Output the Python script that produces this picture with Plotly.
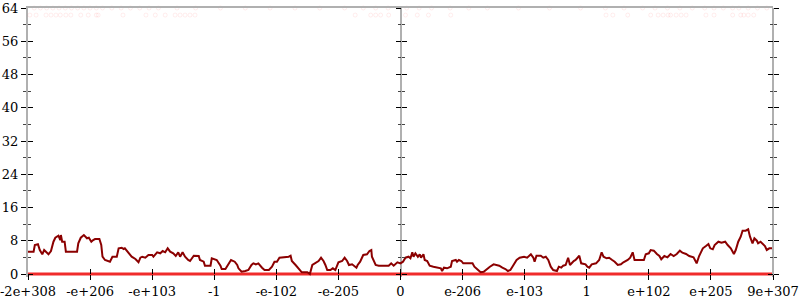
import plotly.graph_objects as go

# ---- data ----
tick_positions = [-6, -5, -4, -3, -2, -1, 0, 1, 2, 3, 4, 5, 6]
tick_labels = ["-2e+308", "-e+206", "-e+103", "-1", "-e-102", "-e-205", "0",
               "e-206", "e-103", "1", "e+102", "e+205", "9e+307"]
y_ticks = [0, 8, 16, 24, 32, 40, 48, 56, 64]

series_x = [
    -6.00, -5.91, -5.89, -5.84, -5.81, -5.77, -5.74, -5.67, -5.63, -5.59, -5.56, -5.51, -5.48, -5.47, -5.45, -5.41,
    -5.39, -5.21, -5.19, -5.15, -5.10, -5.05, -5.02, -4.98, -4.95, -4.92, -4.85, -4.82, -4.80, -4.76, -4.68, -4.64,
    -4.57, -4.54, -4.49, -4.46, -4.44, -4.38, -4.33, -4.27, -4.22, -4.19, -4.16, -4.11,
    -4.06, -4.00, -3.98, -3.92, -3.87, -3.83, -3.79, -3.75, -3.71, -3.66, -3.62, -3.58, -3.55, -3.51, -3.47, -3.42,
    -3.39, -3.33, -3.25, -3.23, -3.17, -3.15, -3.06, -3.04, -2.98, -2.96, -2.90, -2.88, -2.82, -2.78, -2.73, -2.67,
    -2.63, -2.61, -2.56, -2.50, -2.45, -2.40, -2.37, -2.33, -2.29, -2.23, -2.19, -2.12, -2.07,
    -2.03, -1.99, -1.95, -1.80, -1.77, -1.75, -1.69, -1.64, -1.59, -1.50, -1.46, -1.42, -1.37, -1.32, -1.28, -1.24,
    -1.21, -1.18, -1.13, -1.09, -1.05, -1.00, -0.94, -0.90, -0.86, -0.83, -0.78, -0.75, -0.71, -0.69, -0.65, -0.60,
    -0.54, -0.50, -0.47, -0.46, -0.40, -0.35, -0.19, -0.15, -0.11, -0.05, 0.00,
    0.04, 0.08, 0.13, 0.16, 0.19, 0.21, 0.24, 0.28, 0.31, 0.33, 0.37, 0.39, 0.43, 0.47, 0.53, 0.59,
    0.65, 0.67, 0.70, 0.75, 0.81, 0.83, 0.89, 0.91, 0.94, 0.98, 1.01, 1.16, 1.19, 1.25, 1.29, 1.34,
    1.39, 1.44, 1.50, 1.56, 1.59, 1.64, 1.69, 1.73, 1.77, 1.82, 1.87, 1.92,
    1.99, 2.04, 2.10, 2.14, 2.16, 2.19, 2.26, 2.30, 2.34, 2.38, 2.42, 2.46, 2.52, 2.55, 2.59, 2.62,
    2.66, 2.70, 2.73, 2.79, 2.82, 2.88, 2.91, 2.98, 3.01, 3.04, 3.08, 3.15, 3.20, 3.24, 3.27, 3.32,
    3.36, 3.41, 3.45, 3.50, 3.55, 3.59, 3.66, 3.70, 3.74, 3.77, 3.92, 3.95, 4.00, 4.03,
    4.08, 4.13, 4.17, 4.20, 4.25, 4.30, 4.35, 4.40, 4.45, 4.50, 4.54, 4.60, 4.65, 4.72, 4.77, 4.81,
    4.87, 4.92, 4.96, 4.99, 5.03, 5.06, 5.12, 5.17, 5.23, 5.27, 5.32, 5.37, 5.40, 5.44, 5.48, 5.51,
    5.56, 5.60, 5.63, 5.67, 5.70, 5.74, 5.76, 5.80, 5.83, 5.87, 5.90, 5.94, 6.00,
]
series_y = [
    5.37, 5.37, 6.98, 7.15, 5.77, 4.74, 5.77, 4.74, 5.53, 7.77, 8.73, 9.22, 8.18, 9.38, 7.77, 7.77,
    5.37, 5.37, 7.39, 8.73, 9.38, 8.59, 8.73, 7.77, 8.18, 8.42, 8.42, 6.98, 4.16, 3.37, 2.96, 4.16,
    4.16, 6.18, 6.33, 6.02, 6.18, 5.22, 4.16, 3.61, 2.82, 3.92, 4.16, 3.92,
    4.57, 4.57, 4.16, 5.22, 4.98, 5.53, 5.22, 6.18, 5.37, 4.98, 4.33, 5.22, 4.16, 5.22, 4.16, 3.37,
    3.13, 4.40, 4.33, 3.37, 2.96, 2.00, 2.00, 3.78, 3.37, 3.37, 2.00, 1.20, 1.20, 2.33, 3.37, 2.96,
    2.17, 1.37, 0.55, 0.72, 0.96, 2.17, 2.57, 2.33, 2.57, 1.52, 0.96, 0.96, 1.76,
    2.96, 2.96, 3.92, 4.16, 4.40, 3.13, 2.17, 1.20, 0.41, 0.41, 0.00, 2.17, 2.57, 3.13, 3.92, 3.13,
    2.17, 0.96, 0.96, 1.37, 0.96, 2.82, 3.13, 3.92, 3.13, 2.17, 2.33, 2.00, 1.52, 2.17, 2.96, 4.57,
    4.74, 5.53, 5.77, 4.16, 2.17, 2.00, 2.00, 2.57, 2.00, 2.82, 2.57,
    2.96, 3.92, 4.16, 3.78, 5.22, 4.16, 4.98, 4.16, 4.74, 3.92, 4.74, 3.37, 3.13, 2.00, 1.76, 1.52,
    1.37, 0.72, 1.52, 1.37, 1.76, 3.13, 3.37, 2.96, 3.37, 3.13, 2.57, 2.57, 1.76, 0.96, 0.41, 0.55,
    1.20, 1.76, 2.33, 2.17, 2.00, 1.52, 1.20, 0.72, 0.96, 2.17, 3.37, 3.92,
    4.16, 3.92, 4.74, 3.92, 2.96, 4.40, 4.40, 3.92, 4.16, 3.37, 1.76, 0.96, 0.72, 1.76, 1.52, 2.00,
    2.17, 3.92, 2.17, 3.13, 3.37, 4.40, 2.57, 2.33, 1.76, 1.52, 2.33, 2.57, 3.37, 5.22, 4.16, 3.78,
    3.92, 3.37, 2.96, 2.17, 2.33, 2.82, 3.37, 3.92, 5.22, 3.37, 3.37, 4.74, 4.98, 5.77,
    5.61, 4.81, 4.33, 3.54, 4.33, 4.02, 4.81, 4.33, 4.81, 5.61, 5.13, 4.81, 4.33, 4.02, 2.57, 4.33,
    6.18, 6.74, 7.22, 6.18, 5.94, 6.98, 7.77, 7.53, 7.77, 6.98, 6.18, 4.81, 5.77, 7.77, 8.98, 10.42,
    10.42, 10.76, 8.98, 7.39, 8.59, 8.01, 7.39, 7.77, 7.39, 6.74, 5.77, 6.18, 6.18,
]

base_x = [-6, 6]
base_y = [0, 0]

# faint scattered points near the top
faint_top_x = [-5.9, -5.8, -5.7, -5.6, -5.5, -5.4, -5.3, -5.2, -5.1, -5.0, -4.9, -4.8, -4.65, -4.5,
               -4.35, -4.2, -4.05, -3.9, -3.6, -3.3, -2.9, -2.5, -2.1, -1.7, -1.3, -0.9, -0.6, -0.4,
               -0.2, 0.1, 0.3, 0.5, 0.8, 1.1, 1.4, 1.9, 2.4, 2.9, 3.3, 3.6, 3.9, 4.1, 4.3, 4.5,
               4.7, 4.9, 5.05, 5.2, 5.35, 5.45, 5.6, 5.75, 5.9]
faint_top_y = [64] * len(faint_top_x)
faint_mid_x = [-5.97, -5.87, -5.71, -5.63, -5.55, -5.48, -5.39, -5.31, -5.15, -5.03, -4.9, -4.87,
               -4.47, -4.1, -3.95, -3.79, -3.63, -3.55, -3.47, -3.39, -3.31,
               -0.73, -0.48, -0.4, -0.32, -0.19, 0.08, 0.27, 0.45, 0.81,
               3.31, 3.42, 3.66, 4.03, 4.15, 4.23, 4.31, 4.35, 4.44, 4.52, 4.6, 4.92, 5.05,
               5.35, 5.48, 5.53, 5.6, 5.69]
faint_mid_y = [62.3] * len(faint_mid_x)

axis_grey = "#b0b0b0"
font = dict(family="DejaVu Serif", size=13, color="#000000")

fig = go.Figure()
fig.add_trace(go.Scatter(x=faint_top_x + faint_mid_x, y=faint_top_y + faint_mid_y, mode="markers",
                         marker=dict(symbol="circle-open", size=4, color="rgba(255,60,60,0.09)",
                                     line=dict(width=1)),
                         cliponaxis=False, hoverinfo="skip", showlegend=False))
fig.add_trace(go.Scatter(x=base_x, y=base_y, mode="lines",
                         line=dict(color="rgba(238,20,20,0.9)", width=3.2),
                         hoverinfo="skip", showlegend=False))
fig.add_trace(go.Scatter(x=series_x, y=series_y, mode="lines",
                         line=dict(color="#8b0000", width=2),
                         hoverinfo="skip", showlegend=False))
# dummy traces to materialise extra axes
for ya in ["y2", "y3", "y4", "y5", "y6"]:
    fig.add_trace(go.Scatter(x=[None], y=[None], yaxis=ya, xaxis="x", showlegend=False, hoverinfo="skip"))
fig.add_trace(go.Scatter(x=[None], y=[None], xaxis="x2", yaxis="y", showlegend=False, hoverinfo="skip"))
fig.add_trace(go.Scatter(x=[None], y=[None], xaxis="x3", yaxis="y", showlegend=False, hoverinfo="skip"))

yr = [-0.72, 64]
xr = [-6, 6]
xpos = 0.72 / 64.72

minor_out = dict(ticks="outside", ticklen=3, dtick=4, tick0=0, tickcolor="#444", tickwidth=1, showgrid=False)
minor_in = dict(ticks="inside", ticklen=3, dtick=4, tick0=0, tickcolor="#444", tickwidth=1, showgrid=False)

common_y = dict(range=yr, tickvals=y_ticks, showgrid=False, zeroline=False, fixedrange=True,
                tickcolor="#000", tickwidth=1, ticklen=5, automargin=False)

fig.update_layout(
    width=800, height=300,
    margin=dict(l=28, r=27, t=8, b=23, pad=0, autoexpand=False),
    paper_bgcolor="white", plot_bgcolor="white",
    showlegend=False,
    font=font,
    xaxis=dict(range=xr, tickvals=tick_positions, ticktext=tick_labels, ticks="outside", ticklen=5,
               tickcolor="#000", tickwidth=1, showline=False, showgrid=False, zeroline=True,
               zerolinecolor=axis_grey, zerolinewidth=2, anchor="free", position=xpos,
               tickfont=font, fixedrange=True, automargin=False, ticklabeloverflow="allow"),
    xaxis2=dict(range=xr, tickvals=tick_positions, ticks="inside", ticklen=5, tickcolor="#000",
                tickwidth=1, showticklabels=False, showline=False, showgrid=False, zeroline=False,
                overlaying="x", anchor="free", position=xpos, fixedrange=True, automargin=False),
    xaxis3=dict(range=xr, side="top", overlaying="x", anchor="y", showline=True, linecolor=axis_grey,
                linewidth=2, ticks="", showticklabels=False, showgrid=False, zeroline=False,
                fixedrange=True, automargin=False),
    yaxis=dict(**common_y, ticks="outside", showline=True, linecolor=axis_grey, linewidth=2,
               tickfont=font, minor=minor_out, layer="below traces", ticklabeloverflow="allow"),
    yaxis2=dict(**common_y, ticks="inside", overlaying="y", anchor="x", side="left",
                showticklabels=False, showline=False, minor=minor_in),
    yaxis3=dict(**common_y, ticks="outside", overlaying="y", anchor="free", position=0.5, side="left",
                showticklabels=False, showline=False, minor=minor_out),
    yaxis4=dict(**common_y, ticks="inside", overlaying="y", anchor="free", position=0.5, side="left",
                showticklabels=False, showline=False, minor=minor_in),
    yaxis5=dict(**common_y, ticks="outside", overlaying="y", anchor="free", position=1.0, side="right",
                showticklabels=False, showline=True, linecolor=axis_grey, linewidth=2, minor=minor_out),
    yaxis6=dict(**common_y, ticks="inside", overlaying="y", anchor="free", position=1.0, side="right",
                showticklabels=False, showline=False, minor=minor_in),
)

fig.write_html("out.html", config={"displayModeBar": False})
